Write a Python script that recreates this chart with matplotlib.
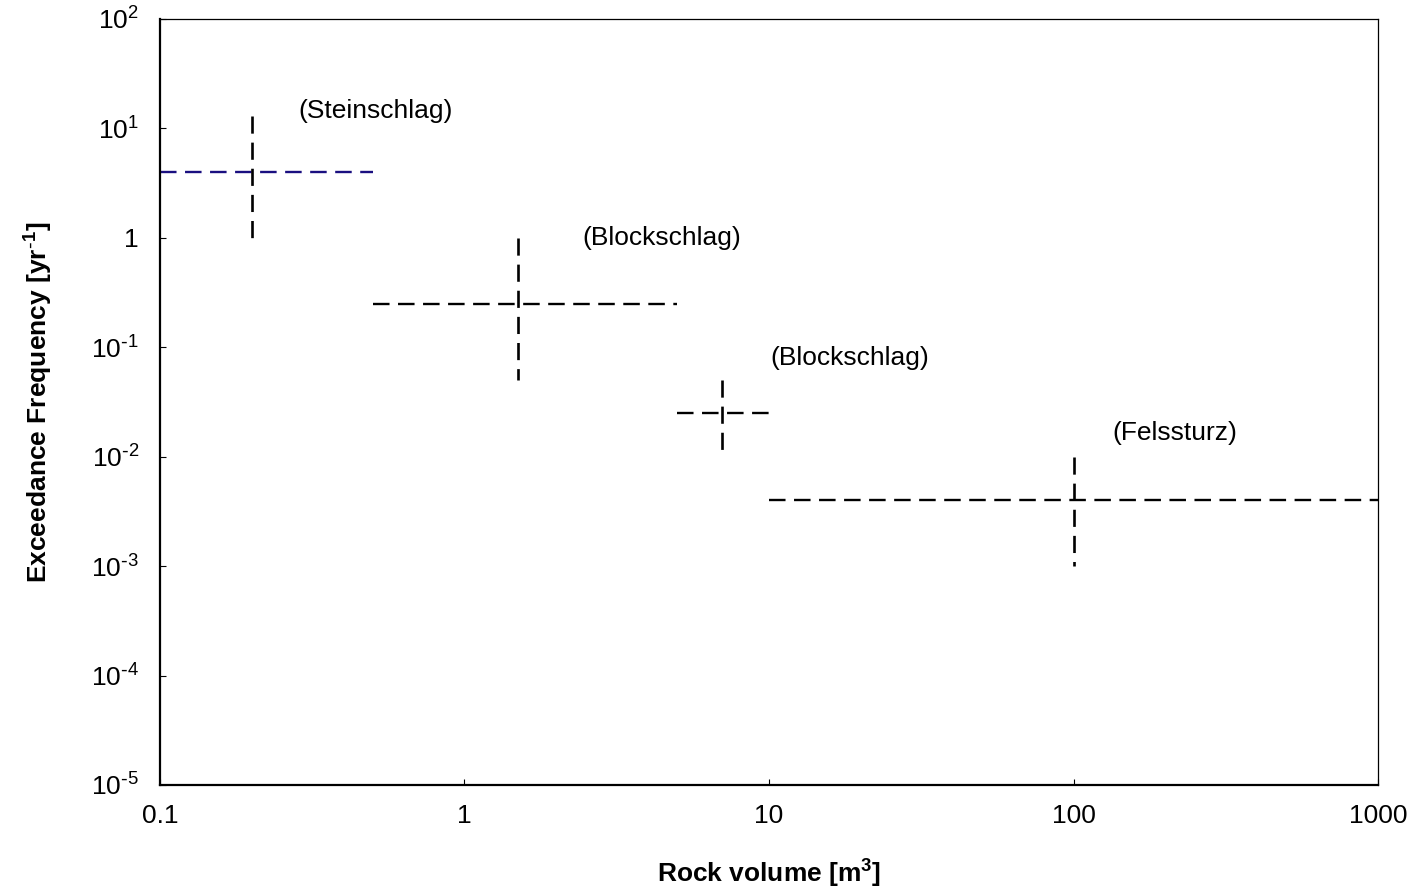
import matplotlib
matplotlib.use('Agg')
import matplotlib.pyplot as plt

plt.rcParams['font.family'] = ['Liberation Sans', 'DejaVu Sans']
plt.rcParams['mathtext.default'] = 'regular'

# crosses: horizontal range at a frequency, vertical range at a volume
h_xmin = [0.1, 0.5, 5, 10]
h_xmax = [0.5, 5, 10, 1000]
h_y = [4, 0.25, 0.025, 0.004]
v_x = [0.2, 1.5, 7, 100]
v_ymin = [1, 0.05, 0.01, 0.001]
v_ymax = [13, 1, 0.05, 0.01]
h_colors = ['#1a0f80', 'black', 'black', 'black']

labels = ['(Steinschlag)', '(Blockschlag)', '(Blockschlag)', '(Felssturz)']
label_x = [0.285, 2.43, 10.1, 134]
label_y = [14.5, 1.0, 0.08, 0.0165]

x_ticks = [0.1, 1, 10, 100, 1000]
x_ticklabels = ['0.1', '1', '10', '100', '1000']
y_ticks = [1e-5, 1e-4, 1e-3, 1e-2, 1e-1, 1, 10, 100]
y_ticklabels = [r'$10^{\text{-}5}$', r'$10^{\text{-}4}$', r'$10^{\text{-}3}$',
                r'$10^{\text{-}2}$', r'$10^{\text{-}1}$', '1', '$10^{1}$', '$10^{2}$']

fig = plt.figure(figsize=(14.23, 8.91), dpi=100)
ax = fig.add_axes([0.1124, 0.119, 0.856, 0.8597])

for i in range(4):
    ax.plot([h_xmin[i], h_xmax[i]], [h_y[i], h_y[i]], color=h_colors[i],
            linewidth=1.7, dashes=(7, 3.6))
    # vertical bars drawn top-down so the dash pattern starts at the top
    ax.plot([v_x[i], v_x[i]], [v_ymax[i], v_ymin[i]], color='black',
            linewidth=1.9, dashes=(6.5, 3.4))
    ax.text(label_x[i], label_y[i], labels[i], fontsize=19, va='center', ha='left')

ax.set_xscale('log')
ax.set_yscale('log')
ax.set_xlim(0.1, 1000)
ax.set_ylim(1e-5, 100)
ax.set_xticks(x_ticks)
ax.set_xticklabels(x_ticklabels)
ax.set_yticks(y_ticks)
ax.set_yticklabels(y_ticklabels)
ax.minorticks_off()
ax.tick_params(axis='both', direction='in', length=4, width=0.8, labelsize=19)
ax.tick_params(axis='x', pad=14)
ax.tick_params(axis='y', pad=15)

ax.spines['left'].set_linewidth(1.6)
ax.spines['bottom'].set_linewidth(1.6)
ax.spines['top'].set_linewidth(0.9)
ax.spines['right'].set_linewidth(0.9)

ax.set_xlabel('Rock volume [m$^{3}$]', fontsize=19, fontweight='bold', labelpad=21)
ax.set_ylabel(r'Exceedance Frequency [yr$^{\text{-}1}$]', fontsize=19,
              fontweight='bold', labelpad=26)

plt.savefig('out.png', dpi=100)
